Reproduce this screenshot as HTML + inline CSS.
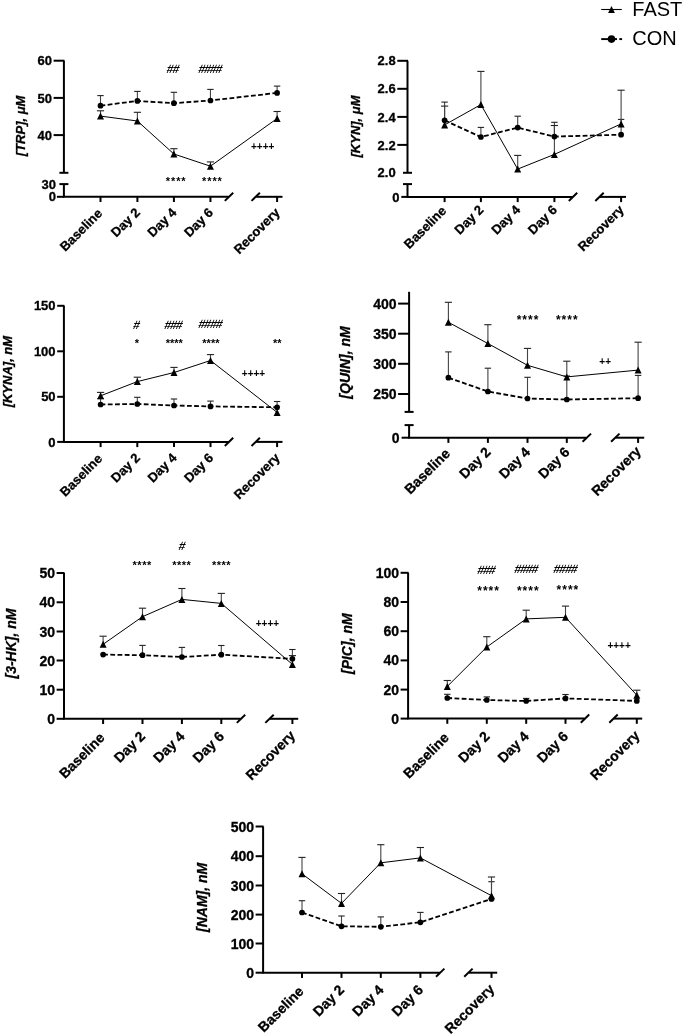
<!DOCTYPE html><html><head><meta charset="utf-8"><style>html,body{margin:0;padding:0;background:#fff;width:685px;height:1036px;overflow:hidden}svg{display:block;will-change:transform}text{font-family:"Liberation Sans",sans-serif;fill:#000}text.b{stroke:#000;stroke-width:0.3px}</style></head><body>
<svg width="685" height="1036" viewBox="0 0 685 1036">
<rect width="685" height="1036" fill="#fff"/>
<line x1="601.2" y1="9.5" x2="621.8" y2="9.5" stroke="#000" stroke-width="1.1" />
<path d="M608.1 13.1L611.5 6L614.9 13.1Z" fill="#000"/>
<line x1="601.2" y1="39.1" x2="617" y2="39.1" stroke="#000" stroke-width="1.9" />
<line x1="619.3" y1="39.1" x2="622.1" y2="39.1" stroke="#000" stroke-width="1.9" />
<circle cx="611.5" cy="39.1" r="3.8" fill="#000"/>
<text x="632.3" y="15.8" font-size="20" text-anchor="start" font-weight="normal" font-style="normal" >FAST</text>
<text x="632.3" y="45.3" font-size="20" text-anchor="start" font-weight="normal" font-style="normal" >CON</text>
<line x1="63.9" y1="60.7" x2="63.9" y2="172.8" stroke="#000" stroke-width="2" />
<line x1="59.4" y1="172.8" x2="68.4" y2="172.8" stroke="#000" stroke-width="2" />
<line x1="63.9" y1="184.1" x2="63.9" y2="196.8" stroke="#000" stroke-width="2" />
<line x1="59.4" y1="184.1" x2="68.4" y2="184.1" stroke="#000" stroke-width="2" />
<line x1="53.6" y1="60.7" x2="64.4" y2="60.7" stroke="#000" stroke-width="2" />
<text x="52" y="65.38" font-size="13" text-anchor="end" font-weight="bold" font-style="normal" class="b">60</text>
<line x1="53.6" y1="97.9" x2="64.4" y2="97.9" stroke="#000" stroke-width="2" />
<text x="52" y="102.58" font-size="13" text-anchor="end" font-weight="bold" font-style="normal" class="b">50</text>
<line x1="53.6" y1="135.1" x2="64.4" y2="135.1" stroke="#000" stroke-width="2" />
<text x="52" y="139.78" font-size="13" text-anchor="end" font-weight="bold" font-style="normal" class="b">40</text>
<text x="56" y="188.78" font-size="13" text-anchor="end" font-weight="bold" font-style="normal" class="b">30</text>
<line x1="56.9" y1="196.8" x2="64.4" y2="196.8" stroke="#000" stroke-width="2" />
<text x="56" y="201.48" font-size="13" text-anchor="end" font-weight="bold" font-style="normal" class="b">0</text>
<line x1="62.9" y1="196.8" x2="228.5" y2="196.8" stroke="#000" stroke-width="2" />
<line x1="256.2" y1="196.8" x2="282.5" y2="196.8" stroke="#000" stroke-width="2" />
<line x1="224.8" y1="200.9" x2="233.2" y2="192.7" stroke="#000" stroke-width="2" />
<line x1="251.5" y1="200.9" x2="259.9" y2="192.7" stroke="#000" stroke-width="2" />
<line x1="100.5" y1="196.8" x2="100.5" y2="202" stroke="#000" stroke-width="2" />
<line x1="137.4" y1="196.8" x2="137.4" y2="202" stroke="#000" stroke-width="2" />
<line x1="173.9" y1="196.8" x2="173.9" y2="202" stroke="#000" stroke-width="2" />
<line x1="210.45" y1="196.8" x2="210.45" y2="202" stroke="#000" stroke-width="2" />
<line x1="277.1" y1="196.8" x2="277.1" y2="202" stroke="#000" stroke-width="2" />
<text class="b" x="0" y="0" font-size="13" font-weight="bold" text-anchor="end" transform="translate(103,214.2) rotate(-45)">Baseline</text>
<text class="b" x="0" y="0" font-size="13" font-weight="bold" text-anchor="end" transform="translate(140.9,213.3) rotate(-45)">Day 2</text>
<text class="b" x="0" y="0" font-size="13" font-weight="bold" text-anchor="end" transform="translate(177.4,213.3) rotate(-45)">Day 4</text>
<text class="b" x="0" y="0" font-size="13" font-weight="bold" text-anchor="end" transform="translate(213.95,213.3) rotate(-45)">Day 6</text>
<text class="b" x="0" y="0" font-size="13" font-weight="bold" text-anchor="end" transform="translate(280.6,213.3) rotate(-45)">Recovery</text>
<text class="b" x="0" y="0" font-size="13" font-weight="bold" font-style="italic" text-anchor="middle" transform="translate(25.2,125.9) rotate(-90)">[TRP], μM</text>
<line x1="100.5" y1="105.7" x2="100.5" y2="95.6" stroke="#444" stroke-width="1.1" />
<line x1="97.3" y1="95.6" x2="103.7" y2="95.6" stroke="#222" stroke-width="1.1" />
<line x1="137.4" y1="100.9" x2="137.4" y2="91.4" stroke="#444" stroke-width="1.1" />
<line x1="134.2" y1="91.4" x2="140.6" y2="91.4" stroke="#222" stroke-width="1.1" />
<line x1="173.9" y1="103.2" x2="173.9" y2="92.3" stroke="#444" stroke-width="1.1" />
<line x1="170.7" y1="92.3" x2="177.1" y2="92.3" stroke="#222" stroke-width="1.1" />
<line x1="210.45" y1="100.5" x2="210.45" y2="89.4" stroke="#444" stroke-width="1.1" />
<line x1="207.25" y1="89.4" x2="213.65" y2="89.4" stroke="#222" stroke-width="1.1" />
<line x1="277.1" y1="92.9" x2="277.1" y2="86.1" stroke="#444" stroke-width="1.1" />
<line x1="273.9" y1="86.1" x2="280.3" y2="86.1" stroke="#222" stroke-width="1.1" />
<line x1="100.5" y1="116.1" x2="100.5" y2="110.8" stroke="#444" stroke-width="1.1" />
<line x1="96.9" y1="110.8" x2="104.1" y2="110.8" stroke="#222" stroke-width="1.1" />
<line x1="137.4" y1="121" x2="137.4" y2="112.3" stroke="#444" stroke-width="1.1" />
<line x1="133.8" y1="112.3" x2="141" y2="112.3" stroke="#222" stroke-width="1.1" />
<line x1="173.9" y1="154" x2="173.9" y2="148.7" stroke="#444" stroke-width="1.1" />
<line x1="170.3" y1="148.7" x2="177.5" y2="148.7" stroke="#222" stroke-width="1.1" />
<line x1="210.45" y1="166.2" x2="210.45" y2="161.9" stroke="#444" stroke-width="1.1" />
<line x1="206.85" y1="161.9" x2="214.05" y2="161.9" stroke="#222" stroke-width="1.1" />
<line x1="277.1" y1="118.5" x2="277.1" y2="111.5" stroke="#444" stroke-width="1.1" />
<line x1="273.5" y1="111.5" x2="280.7" y2="111.5" stroke="#222" stroke-width="1.1" />
<polyline points="100.5,105.7 137.4,100.9 173.9,103.2 210.45,100.5 277.1,92.9" fill="none" stroke="#000" stroke-width="1.8" stroke-dasharray="4.8,2.4"/>
<polyline points="100.5,116.1 137.4,121 173.9,154 210.45,166.2 277.1,118.5" fill="none" stroke="#000" stroke-width="1"/>
<circle cx="100.5" cy="105.7" r="2.85" fill="#000"/>
<circle cx="137.4" cy="100.9" r="2.85" fill="#000"/>
<circle cx="173.9" cy="103.2" r="2.85" fill="#000"/>
<circle cx="210.45" cy="100.5" r="2.85" fill="#000"/>
<circle cx="277.1" cy="92.9" r="2.85" fill="#000"/>
<path d="M97 119.6L100.5 112.6L104 119.6Z" fill="#000"/>
<path d="M133.9 124.5L137.4 117.5L140.9 124.5Z" fill="#000"/>
<path d="M170.4 157.5L173.9 150.5L177.4 157.5Z" fill="#000"/>
<path d="M206.95 169.7L210.45 162.7L213.95 169.7Z" fill="#000"/>
<path d="M273.6 122L277.1 115L280.6 122Z" fill="#000"/>
<g transform="translate(172.65,69.6) skewX(-12)"><text x="0" y="3.6" font-size="12" text-anchor="middle" font-weight="bold" letter-spacing="-0.9">##</text></g>
<g transform="translate(209.95,69.6) skewX(-12)"><text x="0" y="3.6" font-size="12" text-anchor="middle" font-weight="bold" letter-spacing="-0.9">####</text></g>
<text x="176.15" y="185" font-size="11" text-anchor="middle" font-weight="bold" font-style="normal" letter-spacing="0.9">****</text>
<text x="212.45" y="185" font-size="11" text-anchor="middle" font-weight="bold" font-style="normal" letter-spacing="0.9">****</text>
<text x="262.7" y="149.8" font-size="10" text-anchor="middle" font-weight="bold" font-style="normal" letter-spacing="0">++++</text>
<line x1="407.5" y1="60.8" x2="407.5" y2="172.8" stroke="#000" stroke-width="2" />
<line x1="403" y1="172.8" x2="412" y2="172.8" stroke="#000" stroke-width="2" />
<line x1="407.5" y1="184.1" x2="407.5" y2="196.9" stroke="#000" stroke-width="2" />
<line x1="403" y1="184.1" x2="412" y2="184.1" stroke="#000" stroke-width="2" />
<line x1="397.3" y1="60.8" x2="408" y2="60.8" stroke="#000" stroke-width="2" />
<text x="395.7" y="65.48" font-size="13" text-anchor="end" font-weight="bold" font-style="normal" class="b">2.8</text>
<line x1="397.3" y1="88.8" x2="408" y2="88.8" stroke="#000" stroke-width="2" />
<text x="395.7" y="93.48" font-size="13" text-anchor="end" font-weight="bold" font-style="normal" class="b">2.6</text>
<line x1="397.3" y1="116.9" x2="408" y2="116.9" stroke="#000" stroke-width="2" />
<text x="395.7" y="121.58" font-size="13" text-anchor="end" font-weight="bold" font-style="normal" class="b">2.4</text>
<line x1="397.3" y1="144.9" x2="408" y2="144.9" stroke="#000" stroke-width="2" />
<text x="395.7" y="149.58" font-size="13" text-anchor="end" font-weight="bold" font-style="normal" class="b">2.2</text>
<text x="395.7" y="177.48" font-size="13" text-anchor="end" font-weight="bold" font-style="normal" class="b">2.0</text>
<line x1="401.3" y1="196.9" x2="408" y2="196.9" stroke="#000" stroke-width="2" />
<text x="399.6" y="201.58" font-size="13" text-anchor="end" font-weight="bold" font-style="normal" class="b">0</text>
<line x1="406.5" y1="196.9" x2="572.5" y2="196.9" stroke="#000" stroke-width="2" />
<line x1="600" y1="196.9" x2="626" y2="196.9" stroke="#000" stroke-width="2" />
<line x1="568.8" y1="201" x2="577.2" y2="192.8" stroke="#000" stroke-width="2" />
<line x1="595.3" y1="201" x2="603.7" y2="192.8" stroke="#000" stroke-width="2" />
<line x1="444.6" y1="196.9" x2="444.6" y2="202.1" stroke="#000" stroke-width="2" />
<line x1="480.9" y1="196.9" x2="480.9" y2="202.1" stroke="#000" stroke-width="2" />
<line x1="517.7" y1="196.9" x2="517.7" y2="202.1" stroke="#000" stroke-width="2" />
<line x1="554.4" y1="196.9" x2="554.4" y2="202.1" stroke="#000" stroke-width="2" />
<line x1="621.1" y1="196.9" x2="621.1" y2="202.1" stroke="#000" stroke-width="2" />
<text class="b" x="0" y="0" font-size="13" font-weight="bold" text-anchor="end" transform="translate(447.1,211.6) rotate(-45)">Baseline</text>
<text class="b" x="0" y="0" font-size="13" font-weight="bold" text-anchor="end" transform="translate(484.4,210.7) rotate(-45)">Day 2</text>
<text class="b" x="0" y="0" font-size="13" font-weight="bold" text-anchor="end" transform="translate(521.2,210.7) rotate(-45)">Day 4</text>
<text class="b" x="0" y="0" font-size="13" font-weight="bold" text-anchor="end" transform="translate(557.9,210.7) rotate(-45)">Day 6</text>
<text class="b" x="0" y="0" font-size="13" font-weight="bold" text-anchor="end" transform="translate(624.6,210.7) rotate(-45)">Recovery</text>
<text class="b" x="0" y="0" font-size="13" font-weight="bold" font-style="italic" text-anchor="middle" transform="translate(359.6,126.5) rotate(-90)">[KYN], μM</text>
<line x1="444.6" y1="120.3" x2="444.6" y2="102.1" stroke="#444" stroke-width="1.1" />
<line x1="441.4" y1="102.1" x2="447.8" y2="102.1" stroke="#222" stroke-width="1.1" />
<line x1="480.9" y1="137" x2="480.9" y2="127.4" stroke="#444" stroke-width="1.1" />
<line x1="477.7" y1="127.4" x2="484.1" y2="127.4" stroke="#222" stroke-width="1.1" />
<line x1="517.7" y1="127.6" x2="517.7" y2="116.2" stroke="#444" stroke-width="1.1" />
<line x1="514.5" y1="116.2" x2="520.9" y2="116.2" stroke="#222" stroke-width="1.1" />
<line x1="554.4" y1="136.6" x2="554.4" y2="122.3" stroke="#444" stroke-width="1.1" />
<line x1="551.2" y1="122.3" x2="557.6" y2="122.3" stroke="#222" stroke-width="1.1" />
<line x1="621.1" y1="134.7" x2="621.1" y2="119.4" stroke="#444" stroke-width="1.1" />
<line x1="617.9" y1="119.4" x2="624.3" y2="119.4" stroke="#222" stroke-width="1.1" />
<line x1="444.6" y1="124.9" x2="444.6" y2="106.1" stroke="#444" stroke-width="1.1" />
<line x1="441" y1="106.1" x2="448.2" y2="106.1" stroke="#222" stroke-width="1.1" />
<line x1="480.9" y1="104.6" x2="480.9" y2="71.4" stroke="#444" stroke-width="1.1" />
<line x1="477.3" y1="71.4" x2="484.5" y2="71.4" stroke="#222" stroke-width="1.1" />
<line x1="517.7" y1="169.1" x2="517.7" y2="155.4" stroke="#444" stroke-width="1.1" />
<line x1="514.1" y1="155.4" x2="521.3" y2="155.4" stroke="#222" stroke-width="1.1" />
<line x1="554.4" y1="154.4" x2="554.4" y2="125.5" stroke="#444" stroke-width="1.1" />
<line x1="550.8" y1="125.5" x2="558" y2="125.5" stroke="#222" stroke-width="1.1" />
<line x1="621.1" y1="123.9" x2="621.1" y2="90.2" stroke="#444" stroke-width="1.1" />
<line x1="617.5" y1="90.2" x2="624.7" y2="90.2" stroke="#222" stroke-width="1.1" />
<polyline points="444.6,120.3 480.9,137 517.7,127.6 554.4,136.6 621.1,134.7" fill="none" stroke="#000" stroke-width="1.8" stroke-dasharray="4.8,2.4"/>
<polyline points="444.6,124.9 480.9,104.6 517.7,169.1 554.4,154.4 621.1,123.9" fill="none" stroke="#000" stroke-width="1"/>
<circle cx="444.6" cy="120.3" r="2.85" fill="#000"/>
<circle cx="480.9" cy="137" r="2.85" fill="#000"/>
<circle cx="517.7" cy="127.6" r="2.85" fill="#000"/>
<circle cx="554.4" cy="136.6" r="2.85" fill="#000"/>
<circle cx="621.1" cy="134.7" r="2.85" fill="#000"/>
<path d="M441.1 128.4L444.6 121.4L448.1 128.4Z" fill="#000"/>
<path d="M477.4 108.1L480.9 101.1L484.4 108.1Z" fill="#000"/>
<path d="M514.2 172.6L517.7 165.6L521.2 172.6Z" fill="#000"/>
<path d="M550.9 157.9L554.4 150.9L557.9 157.9Z" fill="#000"/>
<path d="M617.6 127.4L621.1 120.4L624.6 127.4Z" fill="#000"/>
<line x1="63.9" y1="305.8" x2="63.9" y2="441.9" stroke="#000" stroke-width="2" />
<line x1="57.2" y1="305.8" x2="64.4" y2="305.8" stroke="#000" stroke-width="2" />
<text x="55.6" y="310.48" font-size="13" text-anchor="end" font-weight="bold" font-style="normal" class="b">150</text>
<line x1="57.2" y1="351.3" x2="64.4" y2="351.3" stroke="#000" stroke-width="2" />
<text x="55.6" y="355.98" font-size="13" text-anchor="end" font-weight="bold" font-style="normal" class="b">100</text>
<line x1="57.2" y1="396.8" x2="64.4" y2="396.8" stroke="#000" stroke-width="2" />
<text x="55.6" y="401.48" font-size="13" text-anchor="end" font-weight="bold" font-style="normal" class="b">50</text>
<line x1="57.2" y1="441.9" x2="64.4" y2="441.9" stroke="#000" stroke-width="2" />
<text x="55.6" y="446.58" font-size="13" text-anchor="end" font-weight="bold" font-style="normal" class="b">0</text>
<line x1="62.9" y1="441.9" x2="228.5" y2="441.9" stroke="#000" stroke-width="2" />
<line x1="256.2" y1="441.9" x2="282.5" y2="441.9" stroke="#000" stroke-width="2" />
<line x1="224.8" y1="446" x2="233.2" y2="437.8" stroke="#000" stroke-width="2" />
<line x1="251.5" y1="446" x2="259.9" y2="437.8" stroke="#000" stroke-width="2" />
<line x1="100.6" y1="441.9" x2="100.6" y2="447.1" stroke="#000" stroke-width="2" />
<line x1="137.3" y1="441.9" x2="137.3" y2="447.1" stroke="#000" stroke-width="2" />
<line x1="174" y1="441.9" x2="174" y2="447.1" stroke="#000" stroke-width="2" />
<line x1="210.5" y1="441.9" x2="210.5" y2="447.1" stroke="#000" stroke-width="2" />
<line x1="277.1" y1="441.9" x2="277.1" y2="447.1" stroke="#000" stroke-width="2" />
<text class="b" x="0" y="0" font-size="13" font-weight="bold" text-anchor="end" transform="translate(103.1,459.5) rotate(-45)">Baseline</text>
<text class="b" x="0" y="0" font-size="13" font-weight="bold" text-anchor="end" transform="translate(140.8,458.6) rotate(-45)">Day 2</text>
<text class="b" x="0" y="0" font-size="13" font-weight="bold" text-anchor="end" transform="translate(177.5,458.6) rotate(-45)">Day 4</text>
<text class="b" x="0" y="0" font-size="13" font-weight="bold" text-anchor="end" transform="translate(214,458.6) rotate(-45)">Day 6</text>
<text class="b" x="0" y="0" font-size="13" font-weight="bold" text-anchor="end" transform="translate(280.6,458.6) rotate(-45)">Recovery</text>
<text class="b" x="0" y="0" font-size="13" font-weight="bold" font-style="italic" text-anchor="middle" transform="translate(12.2,371.6) rotate(-90)">[KYNA], nM</text>
<line x1="100.6" y1="404.5" x2="100.6" y2="398.6" stroke="#444" stroke-width="1.1" />
<line x1="97.4" y1="398.6" x2="103.8" y2="398.6" stroke="#222" stroke-width="1.1" />
<line x1="137.3" y1="404" x2="137.3" y2="397.3" stroke="#444" stroke-width="1.1" />
<line x1="134.1" y1="397.3" x2="140.5" y2="397.3" stroke="#222" stroke-width="1.1" />
<line x1="174" y1="405.5" x2="174" y2="399" stroke="#444" stroke-width="1.1" />
<line x1="170.8" y1="399" x2="177.2" y2="399" stroke="#222" stroke-width="1.1" />
<line x1="210.5" y1="406.4" x2="210.5" y2="401.1" stroke="#444" stroke-width="1.1" />
<line x1="207.3" y1="401.1" x2="213.7" y2="401.1" stroke="#222" stroke-width="1.1" />
<line x1="277.1" y1="407.3" x2="277.1" y2="401.5" stroke="#444" stroke-width="1.1" />
<line x1="273.9" y1="401.5" x2="280.3" y2="401.5" stroke="#222" stroke-width="1.1" />
<line x1="100.6" y1="395.8" x2="100.6" y2="392.4" stroke="#444" stroke-width="1.1" />
<line x1="97" y1="392.4" x2="104.2" y2="392.4" stroke="#222" stroke-width="1.1" />
<line x1="137.3" y1="381.6" x2="137.3" y2="377.2" stroke="#444" stroke-width="1.1" />
<line x1="133.7" y1="377.2" x2="140.9" y2="377.2" stroke="#222" stroke-width="1.1" />
<line x1="174" y1="372.5" x2="174" y2="367.4" stroke="#444" stroke-width="1.1" />
<line x1="170.4" y1="367.4" x2="177.6" y2="367.4" stroke="#222" stroke-width="1.1" />
<line x1="210.5" y1="360.5" x2="210.5" y2="354.6" stroke="#444" stroke-width="1.1" />
<line x1="206.9" y1="354.6" x2="214.1" y2="354.6" stroke="#222" stroke-width="1.1" />
<polyline points="100.6,404.5 137.3,404 174,405.5 210.5,406.4 277.1,407.3" fill="none" stroke="#000" stroke-width="1.8" stroke-dasharray="4.8,2.4"/>
<polyline points="100.6,395.8 137.3,381.6 174,372.5 210.5,360.5 277.1,412.4" fill="none" stroke="#000" stroke-width="1"/>
<circle cx="100.6" cy="404.5" r="2.85" fill="#000"/>
<circle cx="137.3" cy="404" r="2.85" fill="#000"/>
<circle cx="174" cy="405.5" r="2.85" fill="#000"/>
<circle cx="210.5" cy="406.4" r="2.85" fill="#000"/>
<circle cx="277.1" cy="407.3" r="2.85" fill="#000"/>
<path d="M97.1 399.3L100.6 392.3L104.1 399.3Z" fill="#000"/>
<path d="M133.8 385.1L137.3 378.1L140.8 385.1Z" fill="#000"/>
<path d="M170.5 376L174 369L177.5 376Z" fill="#000"/>
<path d="M207 364L210.5 357L214 364Z" fill="#000"/>
<path d="M273.6 415.9L277.1 408.9L280.6 415.9Z" fill="#000"/>
<g transform="translate(136.05,325) skewX(-12)"><text x="0" y="3.6" font-size="12" text-anchor="middle" font-weight="bold" letter-spacing="-0.9">#</text></g>
<g transform="translate(173.05,325) skewX(-12)"><text x="0" y="3.6" font-size="12" text-anchor="middle" font-weight="bold" letter-spacing="-0.9">###</text></g>
<g transform="translate(210.15,324.8) skewX(-12)"><text x="0" y="3.6" font-size="12" text-anchor="middle" font-weight="bold" letter-spacing="-0.9">####</text></g>
<text x="137" y="346.8" font-size="11" text-anchor="middle" font-weight="bold" font-style="normal" letter-spacing="0">*</text>
<text x="174.2" y="346.9" font-size="11" text-anchor="middle" font-weight="bold" font-style="normal" letter-spacing="0">****</text>
<text x="210.9" y="346.8" font-size="11" text-anchor="middle" font-weight="bold" font-style="normal" letter-spacing="0">****</text>
<text x="277.2" y="346.6" font-size="11" text-anchor="middle" font-weight="bold" font-style="normal" letter-spacing="0">**</text>
<text x="253.5" y="377.1" font-size="10" text-anchor="middle" font-weight="bold" font-style="normal" letter-spacing="0">++++</text>
<line x1="409.1" y1="291.8" x2="409.1" y2="411.9" stroke="#000" stroke-width="2" />
<line x1="404.6" y1="411.9" x2="413.6" y2="411.9" stroke="#000" stroke-width="2" />
<line x1="409.1" y1="425.1" x2="409.1" y2="437.7" stroke="#000" stroke-width="2" />
<line x1="404.6" y1="425.1" x2="413.6" y2="425.1" stroke="#000" stroke-width="2" />
<line x1="398.1" y1="303.6" x2="409.6" y2="303.6" stroke="#000" stroke-width="2" />
<text x="396.5" y="308.64" font-size="14" text-anchor="end" font-weight="bold" font-style="normal" class="b">400</text>
<line x1="398.1" y1="333.7" x2="409.6" y2="333.7" stroke="#000" stroke-width="2" />
<text x="396.5" y="338.74" font-size="14" text-anchor="end" font-weight="bold" font-style="normal" class="b">350</text>
<line x1="398.1" y1="363.8" x2="409.6" y2="363.8" stroke="#000" stroke-width="2" />
<text x="396.5" y="368.84" font-size="14" text-anchor="end" font-weight="bold" font-style="normal" class="b">300</text>
<line x1="398.1" y1="394" x2="409.6" y2="394" stroke="#000" stroke-width="2" />
<text x="396.5" y="399.04" font-size="14" text-anchor="end" font-weight="bold" font-style="normal" class="b">250</text>
<line x1="401.6" y1="437.7" x2="409.6" y2="437.7" stroke="#000" stroke-width="2" />
<text x="399.6" y="442.74" font-size="14" text-anchor="end" font-weight="bold" font-style="normal" class="b">0</text>
<line x1="408.1" y1="437.7" x2="586.3" y2="437.7" stroke="#000" stroke-width="2" />
<line x1="615.8" y1="437.7" x2="644.2" y2="437.7" stroke="#000" stroke-width="2" />
<line x1="582.6" y1="441.8" x2="591" y2="433.6" stroke="#000" stroke-width="2" />
<line x1="611.1" y1="441.8" x2="619.5" y2="433.6" stroke="#000" stroke-width="2" />
<line x1="448.4" y1="437.7" x2="448.4" y2="442.9" stroke="#000" stroke-width="2" />
<line x1="487.9" y1="437.7" x2="487.9" y2="442.9" stroke="#000" stroke-width="2" />
<line x1="527.5" y1="437.7" x2="527.5" y2="442.9" stroke="#000" stroke-width="2" />
<line x1="566.8" y1="437.7" x2="566.8" y2="442.9" stroke="#000" stroke-width="2" />
<line x1="638.1" y1="437.7" x2="638.1" y2="442.9" stroke="#000" stroke-width="2" />
<text class="b" x="0" y="0" font-size="14" font-weight="bold" text-anchor="end" transform="translate(450.9,454.4) rotate(-45)">Baseline</text>
<text class="b" x="0" y="0" font-size="14" font-weight="bold" text-anchor="end" transform="translate(491.5,453) rotate(-45)">Day 2</text>
<text class="b" x="0" y="0" font-size="14" font-weight="bold" text-anchor="end" transform="translate(531.1,453) rotate(-45)">Day 4</text>
<text class="b" x="0" y="0" font-size="14" font-weight="bold" text-anchor="end" transform="translate(570.4,453) rotate(-45)">Day 6</text>
<text class="b" x="0" y="0" font-size="14" font-weight="bold" text-anchor="end" transform="translate(641.8,452.2) rotate(-45)">Recovery</text>
<text class="b" x="0" y="0" font-size="14" font-weight="bold" font-style="italic" text-anchor="middle" transform="translate(349.7,362.5) rotate(-90)">[QUIN], nM</text>
<line x1="448.4" y1="377.7" x2="448.4" y2="351.9" stroke="#444" stroke-width="1.1" />
<line x1="445.2" y1="351.9" x2="451.6" y2="351.9" stroke="#222" stroke-width="1.1" />
<line x1="487.9" y1="391.5" x2="487.9" y2="368.2" stroke="#444" stroke-width="1.1" />
<line x1="484.7" y1="368.2" x2="491.1" y2="368.2" stroke="#222" stroke-width="1.1" />
<line x1="527.5" y1="398.5" x2="527.5" y2="377.3" stroke="#444" stroke-width="1.1" />
<line x1="524.3" y1="377.3" x2="530.7" y2="377.3" stroke="#222" stroke-width="1.1" />
<line x1="566.8" y1="399.5" x2="566.8" y2="376" stroke="#444" stroke-width="1.1" />
<line x1="563.6" y1="376" x2="570" y2="376" stroke="#222" stroke-width="1.1" />
<line x1="638.1" y1="398.2" x2="638.1" y2="375.4" stroke="#444" stroke-width="1.1" />
<line x1="634.9" y1="375.4" x2="641.3" y2="375.4" stroke="#222" stroke-width="1.1" />
<line x1="448.4" y1="322.3" x2="448.4" y2="302.3" stroke="#444" stroke-width="1.1" />
<line x1="444.8" y1="302.3" x2="452" y2="302.3" stroke="#222" stroke-width="1.1" />
<line x1="487.9" y1="343.5" x2="487.9" y2="324.7" stroke="#444" stroke-width="1.1" />
<line x1="484.3" y1="324.7" x2="491.5" y2="324.7" stroke="#222" stroke-width="1.1" />
<line x1="527.5" y1="365.3" x2="527.5" y2="348.4" stroke="#444" stroke-width="1.1" />
<line x1="523.9" y1="348.4" x2="531.1" y2="348.4" stroke="#222" stroke-width="1.1" />
<line x1="566.8" y1="376.9" x2="566.8" y2="361.2" stroke="#444" stroke-width="1.1" />
<line x1="563.2" y1="361.2" x2="570.4" y2="361.2" stroke="#222" stroke-width="1.1" />
<line x1="638.1" y1="370.1" x2="638.1" y2="342.2" stroke="#444" stroke-width="1.1" />
<line x1="634.5" y1="342.2" x2="641.7" y2="342.2" stroke="#222" stroke-width="1.1" />
<polyline points="448.4,377.7 487.9,391.5 527.5,398.5 566.8,399.5 638.1,398.2" fill="none" stroke="#000" stroke-width="1.8" stroke-dasharray="4.8,2.4"/>
<polyline points="448.4,322.3 487.9,343.5 527.5,365.3 566.8,376.9 638.1,370.1" fill="none" stroke="#000" stroke-width="1"/>
<circle cx="448.4" cy="377.7" r="2.85" fill="#000"/>
<circle cx="487.9" cy="391.5" r="2.85" fill="#000"/>
<circle cx="527.5" cy="398.5" r="2.85" fill="#000"/>
<circle cx="566.8" cy="399.5" r="2.85" fill="#000"/>
<circle cx="638.1" cy="398.2" r="2.85" fill="#000"/>
<path d="M444.9 325.8L448.4 318.8L451.9 325.8Z" fill="#000"/>
<path d="M484.4 347L487.9 340L491.4 347Z" fill="#000"/>
<path d="M524 368.8L527.5 361.8L531 368.8Z" fill="#000"/>
<path d="M563.3 380.4L566.8 373.4L570.3 380.4Z" fill="#000"/>
<path d="M634.6 373.6L638.1 366.6L641.6 373.6Z" fill="#000"/>
<text x="528" y="324.1" font-size="12" text-anchor="middle" font-weight="bold" font-style="normal" letter-spacing="1.0">****</text>
<text x="567.3" y="324.1" font-size="12" text-anchor="middle" font-weight="bold" font-style="normal" letter-spacing="1.0">****</text>
<text x="605.2" y="364.8" font-size="10" text-anchor="middle" font-weight="bold" font-style="normal" letter-spacing="0">++</text>
<line x1="64" y1="573" x2="64" y2="718.8" stroke="#000" stroke-width="2" />
<line x1="56.6" y1="573" x2="64.5" y2="573" stroke="#000" stroke-width="2" />
<text x="55" y="578.04" font-size="14" text-anchor="end" font-weight="bold" font-style="normal" class="b">50</text>
<line x1="56.6" y1="602.3" x2="64.5" y2="602.3" stroke="#000" stroke-width="2" />
<text x="55" y="607.34" font-size="14" text-anchor="end" font-weight="bold" font-style="normal" class="b">40</text>
<line x1="56.6" y1="631.5" x2="64.5" y2="631.5" stroke="#000" stroke-width="2" />
<text x="55" y="636.54" font-size="14" text-anchor="end" font-weight="bold" font-style="normal" class="b">30</text>
<line x1="56.6" y1="660.5" x2="64.5" y2="660.5" stroke="#000" stroke-width="2" />
<text x="55" y="665.54" font-size="14" text-anchor="end" font-weight="bold" font-style="normal" class="b">20</text>
<line x1="56.6" y1="689.7" x2="64.5" y2="689.7" stroke="#000" stroke-width="2" />
<text x="55" y="694.74" font-size="14" text-anchor="end" font-weight="bold" font-style="normal" class="b">10</text>
<line x1="56.6" y1="718.8" x2="64.5" y2="718.8" stroke="#000" stroke-width="2" />
<text x="55" y="723.84" font-size="14" text-anchor="end" font-weight="bold" font-style="normal" class="b">0</text>
<line x1="63" y1="718.8" x2="240.5" y2="718.8" stroke="#000" stroke-width="2" />
<line x1="270" y1="718.8" x2="298.2" y2="718.8" stroke="#000" stroke-width="2" />
<line x1="236.8" y1="722.9" x2="245.2" y2="714.7" stroke="#000" stroke-width="2" />
<line x1="265.3" y1="722.9" x2="273.7" y2="714.7" stroke="#000" stroke-width="2" />
<line x1="103.1" y1="718.8" x2="103.1" y2="724" stroke="#000" stroke-width="2" />
<line x1="142.5" y1="718.8" x2="142.5" y2="724" stroke="#000" stroke-width="2" />
<line x1="181.9" y1="718.8" x2="181.9" y2="724" stroke="#000" stroke-width="2" />
<line x1="221.3" y1="718.8" x2="221.3" y2="724" stroke="#000" stroke-width="2" />
<line x1="292.4" y1="718.8" x2="292.4" y2="724" stroke="#000" stroke-width="2" />
<text class="b" x="0" y="0" font-size="14" font-weight="bold" text-anchor="end" transform="translate(105.6,738.6) rotate(-45)">Baseline</text>
<text class="b" x="0" y="0" font-size="14" font-weight="bold" text-anchor="end" transform="translate(146.1,737.2) rotate(-45)">Day 2</text>
<text class="b" x="0" y="0" font-size="14" font-weight="bold" text-anchor="end" transform="translate(185.5,737.2) rotate(-45)">Day 4</text>
<text class="b" x="0" y="0" font-size="14" font-weight="bold" text-anchor="end" transform="translate(224.9,737.2) rotate(-45)">Day 6</text>
<text class="b" x="0" y="0" font-size="14" font-weight="bold" text-anchor="end" transform="translate(296.1,736.4) rotate(-45)">Recovery</text>
<text class="b" x="0" y="0" font-size="14" font-weight="bold" font-style="italic" text-anchor="middle" transform="translate(15.9,643.5) rotate(-90)">[3-HK], nM</text>
<line x1="142.5" y1="655.2" x2="142.5" y2="645.4" stroke="#444" stroke-width="1.1" />
<line x1="139.3" y1="645.4" x2="145.7" y2="645.4" stroke="#222" stroke-width="1.1" />
<line x1="181.9" y1="657" x2="181.9" y2="647.4" stroke="#444" stroke-width="1.1" />
<line x1="178.7" y1="647.4" x2="185.1" y2="647.4" stroke="#222" stroke-width="1.1" />
<line x1="221.3" y1="654.7" x2="221.3" y2="645.5" stroke="#444" stroke-width="1.1" />
<line x1="218.1" y1="645.5" x2="224.5" y2="645.5" stroke="#222" stroke-width="1.1" />
<line x1="292.4" y1="658.8" x2="292.4" y2="649.5" stroke="#444" stroke-width="1.1" />
<line x1="289.2" y1="649.5" x2="295.6" y2="649.5" stroke="#222" stroke-width="1.1" />
<line x1="103.1" y1="644.3" x2="103.1" y2="636.2" stroke="#444" stroke-width="1.1" />
<line x1="99.5" y1="636.2" x2="106.7" y2="636.2" stroke="#222" stroke-width="1.1" />
<line x1="142.5" y1="616.7" x2="142.5" y2="608.2" stroke="#444" stroke-width="1.1" />
<line x1="138.9" y1="608.2" x2="146.1" y2="608.2" stroke="#222" stroke-width="1.1" />
<line x1="181.9" y1="599.4" x2="181.9" y2="588.5" stroke="#444" stroke-width="1.1" />
<line x1="178.3" y1="588.5" x2="185.5" y2="588.5" stroke="#222" stroke-width="1.1" />
<line x1="221.3" y1="603.4" x2="221.3" y2="593.4" stroke="#444" stroke-width="1.1" />
<line x1="217.7" y1="593.4" x2="224.9" y2="593.4" stroke="#222" stroke-width="1.1" />
<line x1="292.4" y1="664.4" x2="292.4" y2="655.6" stroke="#444" stroke-width="1.1" />
<line x1="288.8" y1="655.6" x2="296" y2="655.6" stroke="#222" stroke-width="1.1" />
<polyline points="103.1,654.6 142.5,655.2 181.9,657 221.3,654.7 292.4,658.8" fill="none" stroke="#000" stroke-width="1.8" stroke-dasharray="4.8,2.4"/>
<polyline points="103.1,644.3 142.5,616.7 181.9,599.4 221.3,603.4 292.4,664.4" fill="none" stroke="#000" stroke-width="1"/>
<circle cx="103.1" cy="654.6" r="2.85" fill="#000"/>
<circle cx="142.5" cy="655.2" r="2.85" fill="#000"/>
<circle cx="181.9" cy="657" r="2.85" fill="#000"/>
<circle cx="221.3" cy="654.7" r="2.85" fill="#000"/>
<circle cx="292.4" cy="658.8" r="2.85" fill="#000"/>
<path d="M99.6 647.8L103.1 640.8L106.6 647.8Z" fill="#000"/>
<path d="M139 620.2L142.5 613.2L146 620.2Z" fill="#000"/>
<path d="M178.4 602.9L181.9 595.9L185.4 602.9Z" fill="#000"/>
<path d="M217.8 606.9L221.3 599.9L224.8 606.9Z" fill="#000"/>
<path d="M288.9 667.9L292.4 660.9L295.9 667.9Z" fill="#000"/>
<g transform="translate(181.55,546) skewX(-12)"><text x="0" y="3.6" font-size="12" text-anchor="middle" font-weight="bold" letter-spacing="-0.9">#</text></g>
<text x="142.15" y="568.8" font-size="11" text-anchor="middle" font-weight="bold" font-style="normal" letter-spacing="0.5">****</text>
<text x="181.85" y="568.8" font-size="11" text-anchor="middle" font-weight="bold" font-style="normal" letter-spacing="0.5">****</text>
<text x="221.55" y="568.7" font-size="11" text-anchor="middle" font-weight="bold" font-style="normal" letter-spacing="0.5">****</text>
<text x="267.4" y="626.5" font-size="10" text-anchor="middle" font-weight="bold" font-style="normal" letter-spacing="0">++++</text>
<line x1="408.1" y1="572.8" x2="408.1" y2="718.6" stroke="#000" stroke-width="2" />
<line x1="400.6" y1="572.8" x2="408.6" y2="572.8" stroke="#000" stroke-width="2" />
<text x="399" y="577.84" font-size="14" text-anchor="end" font-weight="bold" font-style="normal" class="b">100</text>
<line x1="400.6" y1="602" x2="408.6" y2="602" stroke="#000" stroke-width="2" />
<text x="399" y="607.04" font-size="14" text-anchor="end" font-weight="bold" font-style="normal" class="b">80</text>
<line x1="400.6" y1="631.2" x2="408.6" y2="631.2" stroke="#000" stroke-width="2" />
<text x="399" y="636.24" font-size="14" text-anchor="end" font-weight="bold" font-style="normal" class="b">60</text>
<line x1="400.6" y1="660.4" x2="408.6" y2="660.4" stroke="#000" stroke-width="2" />
<text x="399" y="665.44" font-size="14" text-anchor="end" font-weight="bold" font-style="normal" class="b">40</text>
<line x1="400.6" y1="689.6" x2="408.6" y2="689.6" stroke="#000" stroke-width="2" />
<text x="399" y="694.64" font-size="14" text-anchor="end" font-weight="bold" font-style="normal" class="b">20</text>
<line x1="400.6" y1="718.6" x2="408.6" y2="718.6" stroke="#000" stroke-width="2" />
<text x="399" y="723.64" font-size="14" text-anchor="end" font-weight="bold" font-style="normal" class="b">0</text>
<line x1="407.1" y1="718.6" x2="584.5" y2="718.6" stroke="#000" stroke-width="2" />
<line x1="614" y1="718.6" x2="642.2" y2="718.6" stroke="#000" stroke-width="2" />
<line x1="580.8" y1="722.7" x2="589.2" y2="714.5" stroke="#000" stroke-width="2" />
<line x1="609.3" y1="722.7" x2="617.7" y2="714.5" stroke="#000" stroke-width="2" />
<line x1="447.3" y1="718.6" x2="447.3" y2="723.8" stroke="#000" stroke-width="2" />
<line x1="486.8" y1="718.6" x2="486.8" y2="723.8" stroke="#000" stroke-width="2" />
<line x1="526.2" y1="718.6" x2="526.2" y2="723.8" stroke="#000" stroke-width="2" />
<line x1="565.5" y1="718.6" x2="565.5" y2="723.8" stroke="#000" stroke-width="2" />
<line x1="636.8" y1="718.6" x2="636.8" y2="723.8" stroke="#000" stroke-width="2" />
<text class="b" x="0" y="0" font-size="14" font-weight="bold" text-anchor="end" transform="translate(449.8,738.6) rotate(-45)">Baseline</text>
<text class="b" x="0" y="0" font-size="14" font-weight="bold" text-anchor="end" transform="translate(490.4,737.2) rotate(-45)">Day 2</text>
<text class="b" x="0" y="0" font-size="14" font-weight="bold" text-anchor="end" transform="translate(529.8,737.2) rotate(-45)">Day 4</text>
<text class="b" x="0" y="0" font-size="14" font-weight="bold" text-anchor="end" transform="translate(569.1,737.2) rotate(-45)">Day 6</text>
<text class="b" x="0" y="0" font-size="14" font-weight="bold" text-anchor="end" transform="translate(640.5,736.4) rotate(-45)">Recovery</text>
<text class="b" x="0" y="0" font-size="14" font-weight="bold" font-style="italic" text-anchor="middle" transform="translate(352.1,643.7) rotate(-90)">[PIC], nM</text>
<line x1="447.3" y1="698" x2="447.3" y2="694.3" stroke="#444" stroke-width="1.1" />
<line x1="444.1" y1="694.3" x2="450.5" y2="694.3" stroke="#222" stroke-width="1.1" />
<line x1="486.8" y1="700" x2="486.8" y2="696.9" stroke="#444" stroke-width="1.1" />
<line x1="483.6" y1="696.9" x2="490" y2="696.9" stroke="#222" stroke-width="1.1" />
<line x1="526.2" y1="701" x2="526.2" y2="698.4" stroke="#444" stroke-width="1.1" />
<line x1="523" y1="698.4" x2="529.4" y2="698.4" stroke="#222" stroke-width="1.1" />
<line x1="565.5" y1="698.4" x2="565.5" y2="694.5" stroke="#444" stroke-width="1.1" />
<line x1="562.3" y1="694.5" x2="568.7" y2="694.5" stroke="#222" stroke-width="1.1" />
<line x1="447.3" y1="686.4" x2="447.3" y2="680.5" stroke="#444" stroke-width="1.1" />
<line x1="443.7" y1="680.5" x2="450.9" y2="680.5" stroke="#222" stroke-width="1.1" />
<line x1="486.8" y1="647" x2="486.8" y2="636.7" stroke="#444" stroke-width="1.1" />
<line x1="483.2" y1="636.7" x2="490.4" y2="636.7" stroke="#222" stroke-width="1.1" />
<line x1="526.2" y1="618.9" x2="526.2" y2="610.2" stroke="#444" stroke-width="1.1" />
<line x1="522.6" y1="610.2" x2="529.8" y2="610.2" stroke="#222" stroke-width="1.1" />
<line x1="565.5" y1="617.3" x2="565.5" y2="606.1" stroke="#444" stroke-width="1.1" />
<line x1="561.9" y1="606.1" x2="569.1" y2="606.1" stroke="#222" stroke-width="1.1" />
<line x1="636.8" y1="695.2" x2="636.8" y2="690.2" stroke="#444" stroke-width="1.1" />
<line x1="633.2" y1="690.2" x2="640.4" y2="690.2" stroke="#222" stroke-width="1.1" />
<polyline points="447.3,698 486.8,700 526.2,701 565.5,698.4 636.8,700.9" fill="none" stroke="#000" stroke-width="1.8" stroke-dasharray="4.8,2.4"/>
<polyline points="447.3,686.4 486.8,647 526.2,618.9 565.5,617.3 636.8,695.2" fill="none" stroke="#000" stroke-width="1"/>
<circle cx="447.3" cy="698" r="2.85" fill="#000"/>
<circle cx="486.8" cy="700" r="2.85" fill="#000"/>
<circle cx="526.2" cy="701" r="2.85" fill="#000"/>
<circle cx="565.5" cy="698.4" r="2.85" fill="#000"/>
<circle cx="636.8" cy="700.9" r="2.85" fill="#000"/>
<path d="M443.8 689.9L447.3 682.9L450.8 689.9Z" fill="#000"/>
<path d="M483.3 650.5L486.8 643.5L490.3 650.5Z" fill="#000"/>
<path d="M522.7 622.4L526.2 615.4L529.7 622.4Z" fill="#000"/>
<path d="M562 620.8L565.5 613.8L569 620.8Z" fill="#000"/>
<path d="M633.3 698.7L636.8 691.7L640.3 698.7Z" fill="#000"/>
<g transform="translate(486.25,569.9) skewX(-12)"><text x="0" y="3.6" font-size="12" text-anchor="middle" font-weight="bold" letter-spacing="-0.9">###</text></g>
<g transform="translate(525.95,569.8) skewX(-12)"><text x="0" y="3.6" font-size="12" text-anchor="middle" font-weight="bold" letter-spacing="-0.9">####</text></g>
<g transform="translate(565.15,569.7) skewX(-12)"><text x="0" y="3.6" font-size="12" text-anchor="middle" font-weight="bold" letter-spacing="-0.9">####</text></g>
<text x="488.6" y="594.5" font-size="12" text-anchor="middle" font-weight="bold" font-style="normal" letter-spacing="1.0">****</text>
<text x="528.3" y="594.5" font-size="12" text-anchor="middle" font-weight="bold" font-style="normal" letter-spacing="1.0">****</text>
<text x="567.9" y="594.4" font-size="12" text-anchor="middle" font-weight="bold" font-style="normal" letter-spacing="1.0">****</text>
<text x="619.1" y="648.8" font-size="10" text-anchor="middle" font-weight="bold" font-style="normal" letter-spacing="0">++++</text>
<line x1="263.1" y1="826.5" x2="263.1" y2="972.7" stroke="#000" stroke-width="2" />
<line x1="255.6" y1="826.5" x2="263.6" y2="826.5" stroke="#000" stroke-width="2" />
<text x="254" y="831.54" font-size="14" text-anchor="end" font-weight="bold" font-style="normal" class="b">500</text>
<line x1="255.6" y1="856.2" x2="263.6" y2="856.2" stroke="#000" stroke-width="2" />
<text x="254" y="861.24" font-size="14" text-anchor="end" font-weight="bold" font-style="normal" class="b">400</text>
<line x1="255.6" y1="885.5" x2="263.6" y2="885.5" stroke="#000" stroke-width="2" />
<text x="254" y="890.54" font-size="14" text-anchor="end" font-weight="bold" font-style="normal" class="b">300</text>
<line x1="255.6" y1="914.6" x2="263.6" y2="914.6" stroke="#000" stroke-width="2" />
<text x="254" y="919.64" font-size="14" text-anchor="end" font-weight="bold" font-style="normal" class="b">200</text>
<line x1="255.6" y1="943.5" x2="263.6" y2="943.5" stroke="#000" stroke-width="2" />
<text x="254" y="948.54" font-size="14" text-anchor="end" font-weight="bold" font-style="normal" class="b">100</text>
<line x1="255.6" y1="972.7" x2="263.6" y2="972.7" stroke="#000" stroke-width="2" />
<text x="254" y="977.74" font-size="14" text-anchor="end" font-weight="bold" font-style="normal" class="b">0</text>
<line x1="262.1" y1="972.7" x2="439.7" y2="972.7" stroke="#000" stroke-width="2" />
<line x1="468.9" y1="972.7" x2="497.2" y2="972.7" stroke="#000" stroke-width="2" />
<line x1="436" y1="976.8" x2="444.4" y2="968.6" stroke="#000" stroke-width="2" />
<line x1="464.2" y1="976.8" x2="472.6" y2="968.6" stroke="#000" stroke-width="2" />
<line x1="302" y1="972.7" x2="302" y2="977.9" stroke="#000" stroke-width="2" />
<line x1="341.5" y1="972.7" x2="341.5" y2="977.9" stroke="#000" stroke-width="2" />
<line x1="380.8" y1="972.7" x2="380.8" y2="977.9" stroke="#000" stroke-width="2" />
<line x1="420.4" y1="972.7" x2="420.4" y2="977.9" stroke="#000" stroke-width="2" />
<line x1="491.5" y1="972.7" x2="491.5" y2="977.9" stroke="#000" stroke-width="2" />
<text class="b" x="0" y="0" font-size="14" font-weight="bold" text-anchor="end" transform="translate(304.5,992.2) rotate(-45)">Baseline</text>
<text class="b" x="0" y="0" font-size="14" font-weight="bold" text-anchor="end" transform="translate(345.1,990.8) rotate(-45)">Day 2</text>
<text class="b" x="0" y="0" font-size="14" font-weight="bold" text-anchor="end" transform="translate(384.4,990.8) rotate(-45)">Day 4</text>
<text class="b" x="0" y="0" font-size="14" font-weight="bold" text-anchor="end" transform="translate(424,990.8) rotate(-45)">Day 6</text>
<text class="b" x="0" y="0" font-size="14" font-weight="bold" text-anchor="end" transform="translate(495.2,990) rotate(-45)">Recovery</text>
<text class="b" x="0" y="0" font-size="14" font-weight="bold" font-style="italic" text-anchor="middle" transform="translate(206.9,897.4) rotate(-90)">[NAM], nM</text>
<line x1="302" y1="912.5" x2="302" y2="900.7" stroke="#444" stroke-width="1.1" />
<line x1="298.8" y1="900.7" x2="305.2" y2="900.7" stroke="#222" stroke-width="1.1" />
<line x1="341.5" y1="926.3" x2="341.5" y2="916" stroke="#444" stroke-width="1.1" />
<line x1="338.3" y1="916" x2="344.7" y2="916" stroke="#222" stroke-width="1.1" />
<line x1="380.8" y1="926.8" x2="380.8" y2="916.9" stroke="#444" stroke-width="1.1" />
<line x1="377.6" y1="916.9" x2="384" y2="916.9" stroke="#222" stroke-width="1.1" />
<line x1="420.4" y1="922.3" x2="420.4" y2="912.4" stroke="#444" stroke-width="1.1" />
<line x1="417.2" y1="912.4" x2="423.6" y2="912.4" stroke="#222" stroke-width="1.1" />
<line x1="491.5" y1="898.9" x2="491.5" y2="881.7" stroke="#444" stroke-width="1.1" />
<line x1="488.3" y1="881.7" x2="494.7" y2="881.7" stroke="#222" stroke-width="1.1" />
<line x1="302" y1="873.8" x2="302" y2="857.4" stroke="#444" stroke-width="1.1" />
<line x1="298.4" y1="857.4" x2="305.6" y2="857.4" stroke="#222" stroke-width="1.1" />
<line x1="341.5" y1="903.4" x2="341.5" y2="893.5" stroke="#444" stroke-width="1.1" />
<line x1="337.9" y1="893.5" x2="345.1" y2="893.5" stroke="#222" stroke-width="1.1" />
<line x1="380.8" y1="862.8" x2="380.8" y2="844.7" stroke="#444" stroke-width="1.1" />
<line x1="377.2" y1="844.7" x2="384.4" y2="844.7" stroke="#222" stroke-width="1.1" />
<line x1="420.4" y1="857.9" x2="420.4" y2="847.5" stroke="#444" stroke-width="1.1" />
<line x1="416.8" y1="847.5" x2="424" y2="847.5" stroke="#222" stroke-width="1.1" />
<line x1="491.5" y1="895.7" x2="491.5" y2="877" stroke="#444" stroke-width="1.1" />
<line x1="487.9" y1="877" x2="495.1" y2="877" stroke="#222" stroke-width="1.1" />
<polyline points="302,912.5 341.5,926.3 380.8,926.8 420.4,922.3 491.5,898.9" fill="none" stroke="#000" stroke-width="1.8" stroke-dasharray="4.8,2.4"/>
<polyline points="302,873.8 341.5,903.4 380.8,862.8 420.4,857.9 491.5,895.7" fill="none" stroke="#000" stroke-width="1"/>
<circle cx="302" cy="912.5" r="2.85" fill="#000"/>
<circle cx="341.5" cy="926.3" r="2.85" fill="#000"/>
<circle cx="380.8" cy="926.8" r="2.85" fill="#000"/>
<circle cx="420.4" cy="922.3" r="2.85" fill="#000"/>
<circle cx="491.5" cy="898.9" r="2.85" fill="#000"/>
<path d="M298.5 877.3L302 870.3L305.5 877.3Z" fill="#000"/>
<path d="M338 906.9L341.5 899.9L345 906.9Z" fill="#000"/>
<path d="M377.3 866.3L380.8 859.3L384.3 866.3Z" fill="#000"/>
<path d="M416.9 861.4L420.4 854.4L423.9 861.4Z" fill="#000"/>
<path d="M488 899.2L491.5 892.2L495 899.2Z" fill="#000"/>
</svg></body></html>
